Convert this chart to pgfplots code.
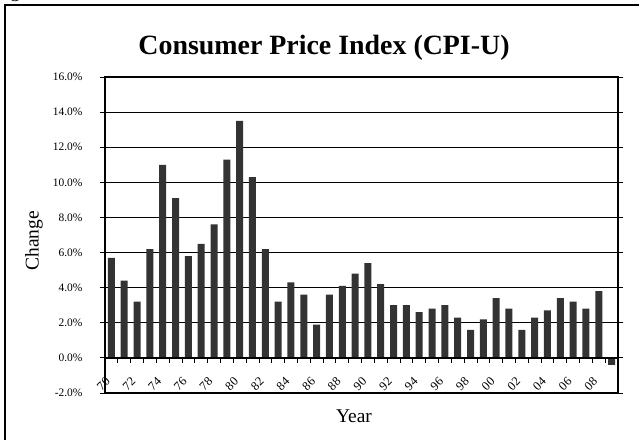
\documentclass[border=0pt]{standalone}
\usepackage{fontspec}
\setmainfont{Liberation Serif}
\usepackage{pgfplots}
\pgfplotsset{compat=1.18}
\definecolor{barc}{HTML}{333333}
\begin{document}
\begin{tikzpicture}
\useasboundingbox (0,0) rectangle (639bp,440bp);
\clip (0,0) rectangle (639bp,440bp);
\fill[white] (0,0) rectangle (639bp,440bp);
\node[anchor=base west, font=\fontsize{19.5}{20}\selectfont, inner sep=0] at (-6bp,442bp) {Figure 1};
\draw[line width=1.8bp] (5bp,-10bp) -- (5bp,435bp) -- (660bp,435bp);
\node[anchor=base, font=\fontsize{28}{30}\selectfont\bfseries] at (324bp,385bp) {Consumer Price Index (CPI-U)};
\node[rotate=90, font=\fontsize{19.5}{20}\selectfont] at (34bp,199bp) {Change};
\node[anchor=base, font=\fontsize{19.5}{20}\selectfont] at (354bp,18bp) {Year};
\begin{axis}[
  at={(105bp,47bp)}, anchor=south west,
  width=513bp, height=316bp, scale only axis,
  xmin=-0.5, xmax=39.5, ymin=-2, ymax=16,
  ytick={-2,0,...,16},
  yticklabel={\pgfmathprintnumber[fixed,fixed zerofill,precision=1]{\tick}\%},
  /pgf/number format/assume math mode=true,
  ymajorgrids, grid style={black, line width=0.8bp},
  axis line style={line width=1.6bp},
  tick align=outside, major tick length=5bp,
  ytick style={black, line width=0.8bp},
  xtick style={draw=none},
  xtick={0,2,...,38},
  xticklabels={70,72,74,76,78,80,82,84,86,88,90,92,94,96,98,00,02,04,06,08},
  tick label style={font=\fontsize{11.5}{12}\selectfont},
  xticklabel style={font=\fontsize{12.5}{13}\selectfont, xshift=-8bp, yshift=14bp, rotate=45, anchor=center, inner sep=1bp},
  yticklabel style={xshift=-14bp},
  ybar, bar width=7bp,
]
\addplot[fill=barc, draw=none] coordinates {
(0,5.7) (1,4.4) (2,3.2) (3,6.2) (4,11.0) (5,9.1) (6,5.8) (7,6.5) (8,7.6) (9,11.3)
(10,13.5) (11,10.3) (12,6.2) (13,3.2) (14,4.3) (15,3.6) (16,1.9) (17,3.6) (18,4.1) (19,4.8)
(20,5.4) (21,4.2) (22,3.0) (23,3.0) (24,2.6) (25,2.8) (26,3.0) (27,2.3) (28,1.6) (29,2.2)
(30,3.4) (31,2.8) (32,1.6) (33,2.3) (34,2.7) (35,3.4) (36,3.2) (37,2.8) (38,3.8) (39,-0.4)
};
\draw[black, line width=1.4bp] (axis cs:-0.5,0) -- (axis cs:39.5,0);
\pgfplotsinvokeforeach{-0.5,0.5,...,39.5}{
  \draw[black, line width=0.8bp] (axis cs:#1,0) -- ++(0bp,-5bp);
}
\end{axis}
\end{tikzpicture}
\end{document}
